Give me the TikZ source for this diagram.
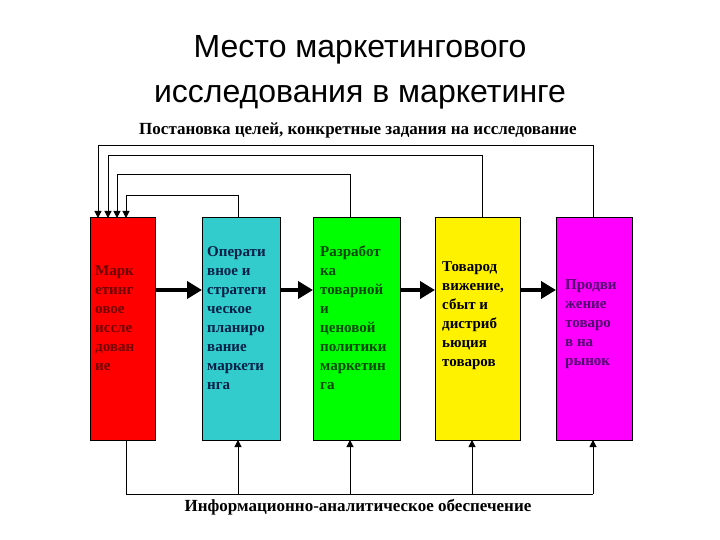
\documentclass[tikz,border=0pt]{standalone}
\usepackage{fontspec}
\setmainfont{Liberation Serif}
\newfontfamily\titlefont{Liberation Sans}
\usetikzlibrary{arrows.meta}
\begin{document}
\begin{tikzpicture}[x=1pt,y=-1pt,
  box/.style={draw=black,line width=1pt},
  btext/.style={anchor=west,align=left,font=\bfseries\fontsize{15}{19}\selectfont,inner sep=0pt},
  conn/.style={line width=1pt,-{Triangle[length=7pt,width=7pt]}},
  plain/.style={line width=1pt},
  flow/.style={line width=4pt,-{Triangle[length=15pt,width=17pt]}}]
\useasboundingbox (0,0) rectangle (720,540);
\definecolor{cy}{RGB}{51,204,204}
\definecolor{gr}{RGB}{0,255,0}
\definecolor{mg}{RGB}{255,0,255}
\node[font=\titlefont\fontsize{32}{45}\selectfont,align=center] (title) at (360,72) {Место маркетингового\\исследования в маркетинге};
\node[font=\bfseries\fontsize{17}{18}\selectfont] (top) at (358,130) {Постановка целей, конкретные задания на исследование};
\node[font=\bfseries\fontsize{17}{18}\selectfont] (bot) at (358,507) {Информационно-аналитическое обеспечение};
\path[box,fill=red] (90,218) rectangle (155,440);
\path[box,fill=cy] (202,218) rectangle (280,440);
\path[box,fill=gr] (313,218) rectangle (400,440);
\path[box,fill=yellow] (435,218) rectangle (520,440);
\path[box,fill=mg] (556,218) rectangle (632,440);
\node[btext,text={rgb,255:red,110;green,0;blue,0}] (t1) at (95,318) {Марк\\етинг\\овое\\иссле\\дован\\ие};
\node[btext,text={rgb,255:red,0;green,30;blue,70}] (t2) at (207,318) {Операти\\вное и\\стратеги\\ческое\\планиро\\вание\\маркети\\нга};
\node[btext,text={rgb,255:red,0;green,70;blue,0}] (t3) at (320,318) {Разработ\\ка\\товарной\\и\\ценовой\\политики\\маркетин\\га};
\node[btext,text=black] (t4) at (442,316) {Товарод\\вижение,\\сбыт и\\дистриб\\ьюция\\товаров};
\node[btext,text={rgb,255:red,80;green,0;blue,110}] (t5) at (565,324) {Продви\\жение\\товаро\\в на\\рынок};
% flow arrows
\draw[flow] (155,290) -- (202,290);
\draw[flow] (280,290) -- (313,290);
\draw[flow] (400,290) -- (435,290);
\draw[flow] (520,290) -- (556,290);
% feedback lines
\draw[conn] (593,218) -- (593,146) -- (98,146) -- (98,218);
\draw[conn] (482,218) -- (482,156) -- (108,156) -- (108,218);
\draw[conn] (350,218) -- (350,175) -- (117,175) -- (117,218);
\draw[conn] (238,218) -- (238,196) -- (126,196) -- (126,218);
% bottom
\draw[plain] (126,440) -- (126,494) -- (593,494);
\draw[conn] (238,494) -- (238,440);
\draw[conn] (350,494) -- (350,440);
\draw[conn] (472,494) -- (472,440);
\draw[conn] (593,494) -- (593,440);
\end{tikzpicture}
\end{document}
